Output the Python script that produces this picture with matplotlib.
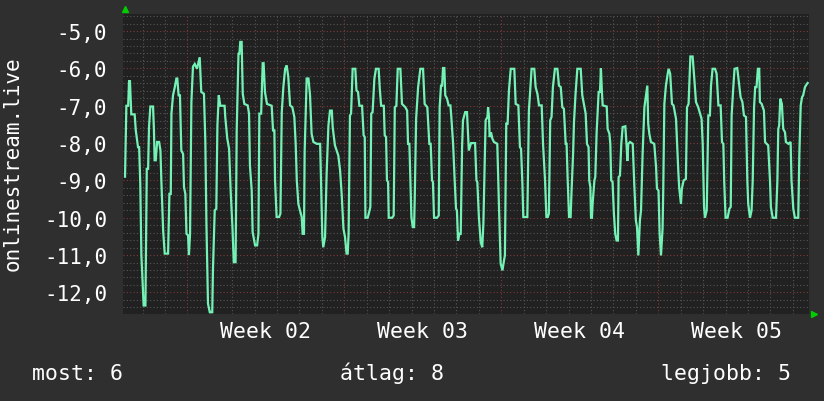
import numpy as np
import matplotlib
matplotlib.use("Agg")
import matplotlib.pyplot as plt

# time in days, 0 = first weekly grid line
t1 = [-2.78, -2.72, -2.64, -2.60, -2.56, -2.50, -2.35, -2.30, -2.20, -2.15,
      -2.10, -2.05, -1.95, -1.87, -1.81, -1.75, -1.71, -1.65, -1.53, -1.49,
      -1.46, -1.41, -1.35, -1.26, -1.20, -1.16, -1.08, -1.01, -0.86, -0.80,
      -0.74, -0.71, -0.64, -0.56, -0.49, -0.45, -0.39, -0.33, -0.27, -0.19,
      -0.15, -0.09, -0.04, 0.03, 0.07, 0.12, 0.18, 0.25, 0.33, 0.43,
      0.55, 0.62, 0.74, 0.80, 0.85, 0.92, 1.00, 1.11, 1.14, 1.22,
      1.29, 1.34, 1.40, 1.47, 1.66, 1.69, 1.78, 1.86, 1.93, 2.01,
      2.07, 2.15, 2.20]
v1 = [-8.9, -7.0, -7.0, -6.34, -6.34, -7.23, -7.23, -7.66, -8.11, -8.11,
      -9.09, -11.0, -12.35, -12.35, -8.69, -8.69, -7.57, -7.02, -7.02, -7.66,
      -8.46, -8.46, -7.97, -7.97, -8.20, -9.0, -10.34, -10.96, -10.96, -9.36,
      -9.36, -7.21, -6.72, -6.50, -6.27, -6.27, -6.72, -6.72, -8.20, -8.29,
      -9.18, -9.36, -10.43, -10.47, -11.0, -10.43, -6.90, -5.95, -5.88, -6.01,
      -5.70, -6.63, -6.68, -7.93, -10.16, -12.30, -12.53, -12.53, -11.41, -9.80,
      -9.76, -7.53, -6.72, -7.0, -7.0, -7.30, -7.88, -8.15, -9.27, -10.25,
      -11.19, -11.19, -7.66]

t2 = [2.28, 2.32, 2.36, 2.42, 2.47, 2.54, 2.69, 2.75, 2.79, 2.87,
      2.91, 3.02, 3.11, 3.17, 3.21, 3.29, 3.36, 3.40, 3.46, 3.55,
      3.76, 3.82, 3.88, 3.91, 3.98, 4.09, 4.15, 4.21, 4.28, 4.36,
      4.43, 4.50, 4.58, 4.68, 4.77, 4.83, 4.88, 4.95, 5.02, 5.10,
      5.14, 5.20, 5.23, 5.32, 5.40, 5.47, 5.54, 5.62, 5.77, 5.92,
      5.96, 6.02, 6.06, 6.14, 6.21, 6.29, 6.36, 6.44, 6.48, 6.58,
      6.73, 6.81, 6.88, 6.96, 7.03, 7.10, 7.15, 7.19, 7.25, 7.30,
      7.37]
v2 = [-5.61, -5.61, -5.29, -5.29, -6.68, -6.95, -6.99, -7.21, -8.60, -9.27,
      -10.38, -10.74, -10.74, -10.43, -7.21, -7.21, -5.86, -5.86, -6.63, -6.95,
      -7.0, -7.66, -7.66, -9.0, -9.98, -9.98, -9.89, -7.17, -6.50, -6.01,
      -5.92, -6.23, -6.99, -7.04, -7.30, -8.02, -9.0, -9.63, -9.80, -9.98,
      -10.43, -10.43, -8.24, -6.27, -6.27, -6.72, -7.75, -7.97, -8.02, -8.02,
      -9.0, -10.52, -10.79, -10.52, -8.82, -7.53, -7.13, -7.13, -7.57, -8.06,
      -8.33, -8.73, -9.36, -10.29, -10.52, -10.96, -10.96, -10.43, -7.26, -7.21,
      -6.01]

t3 = [7.49, 7.54, 7.61, 7.67, 7.79, 7.86, 7.91, 7.94, 8.04, 8.09,
      8.16, 8.20, 8.26, 8.34, 8.41, 8.53, 8.58, 8.64, 8.76, 8.80,
      8.86, 8.90, 8.95, 8.98, 9.13, 9.20, 9.25, 9.32, 9.38, 9.50,
      9.57, 9.72, 9.80, 9.84, 9.90, 9.99, 10.05, 10.11, 10.14, 10.20,
      10.29, 10.39, 10.51, 10.58, 10.70, 10.79, 10.85, 10.91, 10.95, 11.00,
      11.13, 11.21, 11.25, 11.31, 11.36, 11.40, 11.46, 11.50, 11.58, 11.65,
      11.73, 11.77, 11.85, 11.92, 11.98, 12.02, 12.07, 12.13, 12.19, 12.25,
      12.29, 12.39, 12.47]
v3 = [-6.01, -6.59, -6.63, -7.0, -7.0, -7.79, -7.84, -10.0, -10.0, -9.89,
      -9.71, -7.21, -7.17, -6.27, -6.01, -6.01, -6.54, -7.0, -7.0, -7.79,
      -7.84, -9.0, -9.04, -10.0, -10.0, -9.94, -7.04, -7.0, -6.01, -6.01,
      -6.95, -7.04, -7.13, -8.02, -8.02, -9.98, -10.25, -10.25, -9.45, -7.35,
      -6.50, -6.01, -6.01, -6.95, -7.04, -8.02, -8.02, -9.0, -9.04, -10.0,
      -10.0, -9.94, -7.04, -6.46, -6.46, -5.99, -5.99, -6.72, -6.81, -6.99,
      -6.99, -7.30, -8.02, -9.0, -9.76, -9.80, -10.61, -10.43, -10.43, -8.11,
      -7.39, -7.17, -7.17]

t4 = [12.55, 12.65, 12.83, 12.89, 12.93, 13.00, 13.08, 13.15, 13.20, 13.24,
      13.30, 13.38, 13.41, 13.45, 13.48, 13.54, 13.60, 13.67, 13.82, 13.90,
      13.97, 14.05, 14.12, 14.16, 14.22, 14.28, 14.34, 14.42, 14.58, 14.64,
      14.76, 14.83, 14.88, 14.94, 14.98, 15.16, 15.23, 15.28, 15.35, 15.47,
      15.53, 15.61, 15.68, 15.80, 15.86, 15.95, 16.01, 16.07, 16.12, 16.18,
      16.24, 16.30, 16.39, 16.50, 16.57, 16.65, 16.72, 16.79, 16.87, 16.91,
      16.96, 17.02, 17.09, 17.13, 17.20, 17.24, 17.31, 17.39, 17.54, 17.61,
      17.69, 17.76]
v4 = [-8.20, -8.0, -8.0, -9.0, -9.04, -9.98, -10.65, -10.79, -10.16, -9.0,
      -7.39, -7.30, -7.04, -7.30, -7.84, -7.71, -7.88, -7.97, -8.02, -9.80,
      -11.23, -11.41, -11.14, -11.01, -7.48, -7.48, -6.59, -6.01, -6.01, -6.95,
      -6.99, -8.11, -8.15, -9.09, -9.98, -9.98, -7.13, -6.68, -6.01, -6.01,
      -6.50, -6.68, -6.99, -6.99, -8.02, -9.0, -9.98, -9.98, -9.89, -7.39,
      -7.30, -6.50, -6.01, -6.01, -6.46, -6.50, -7.04, -7.08, -8.02, -8.02,
      -9.0, -9.98, -9.98, -9.31, -8.29, -7.44, -6.68, -6.01, -6.01, -6.72,
      -6.99, -7.21]

t5 = [17.82, 17.89, 17.92, 17.97, 18.00, 18.04, 18.07, 18.15, 18.19, 18.25,
      18.34, 18.40, 18.44, 18.49, 18.52, 18.70, 18.74, 18.82, 18.86, 18.90,
      18.96, 19.02, 19.08, 19.14, 19.20, 19.23, 19.29, 19.35, 19.41, 19.53,
      19.59, 19.62, 19.66, 19.74, 19.86, 19.93, 20.00, 20.05, 20.11, 20.18,
      20.23, 20.30, 20.38, 20.45, 20.51, 20.55, 20.60, 20.67, 20.82, 20.90,
      20.94, 21.01, 21.06, 21.12, 21.19, 21.22, 21.27, 21.34, 21.42, 21.46,
      21.53, 21.61, 21.68, 21.79, 21.83, 21.89, 21.93, 22.01, 22.05, 22.13,
      22.23, 22.28, 22.35, 22.43, 22.53, 22.60, 22.68, 22.78]
v5 = [-8.02, -8.11, -9.0, -9.18, -10.0, -10.0, -9.63, -9.0, -8.91, -7.71,
      -6.63, -6.63, -5.99, -6.68, -6.99, -7.02, -7.62, -7.75, -8.02, -9.0,
      -9.04, -9.89, -10.43, -10.61, -10.61, -8.91, -8.87, -8.02, -7.57, -7.55,
      -8.11, -8.48, -8.02, -7.97, -8.02, -9.13, -10.07, -10.25, -11.01, -10.07,
      -9.80, -8.29, -7.04, -6.72, -6.46, -7.48, -7.75, -7.97, -8.02, -8.64,
      -9.22, -9.27, -10.43, -11.01, -10.29, -9.27, -6.95, -6.46, -6.14, -6.01,
      -6.14, -6.95, -6.99, -7.35, -7.93, -8.73, -9.18, -9.63, -9.22, -9.0,
      -8.96, -7.04, -6.95, -5.68, -5.68, -6.23, -6.90, -7.04]

t6 = [22.93, 22.98, 23.04, 23.08, 23.16, 23.23, 23.30, 23.35, 23.42, 23.53,
      23.60, 23.68, 23.78, 23.84, 23.90, 23.94, 24.00, 24.09, 24.17, 24.23,
      24.27, 24.34, 24.40, 24.52, 24.61, 24.67, 24.75, 24.82, 24.91, 24.97,
      25.01, 25.09, 25.16, 25.21, 25.27, 25.32, 25.38, 25.44, 25.50, 25.53,
      25.61, 25.71, 25.76, 25.83, 25.90, 25.98, 26.02, 26.10, 26.25, 26.31,
      26.35, 26.39, 26.44, 26.51, 26.57, 26.65, 26.69, 26.80, 26.90, 26.94,
      27.02, 27.09, 27.24, 27.29, 27.35, 27.41, 27.46, 27.54, 27.61, 27.66]
v6 = [-7.35, -8.02, -9.71, -10.0, -9.80, -7.26, -7.26, -6.46, -6.01, -6.01,
      -6.14, -6.99, -6.99, -7.97, -8.02, -9.04, -10.0, -10.0, -9.76, -9.71,
      -7.26, -6.54, -6.01, -5.99, -6.46, -6.77, -6.90, -7.26, -7.30, -9.0,
      -9.63, -10.0, -9.80, -9.0, -7.04, -6.50, -6.50, -6.01, -6.01, -6.90,
      -6.95, -7.13, -7.97, -8.02, -8.06, -9.0, -9.71, -10.0, -10.0, -9.0,
      -7.62, -7.53, -6.81, -6.95, -7.62, -7.71, -7.97, -8.02, -7.97, -9.0,
      -9.76, -10.0, -10.0, -8.29, -6.99, -6.77, -6.72, -6.50, -6.43, -6.39]

week_labels = ["Week 02", "Week 03", "Week 04", "Week 05"]
week_pos = [3.5, 10.5, 17.5, 24.5]
week_lines = [0, 7, 14, 21]
y_ticks = [-12, -11, -10, -9, -8, -7, -6, -5]
legend_names = ["most", "átlag", "legjobb"]
legend_values = [6, 8, 5]

BG = "#2f2f2f"
PLOT_BG = "#212121"
LINE = "#74f2b6"
GRID = "#555555"
GRID_RED = "#7d3a3a"
FONT = "DejaVu Sans Mono"

t = np.concatenate([t1, t2, t3, t4, t5, t6])
v = np.concatenate([v1, v2, v3, v4, v5, v6])

fig = plt.figure(figsize=(8.24, 4.02), dpi=100, facecolor=BG)
ax = fig.add_axes([123 / 824, 1 - 314.7 / 402, 686 / 824, 299.4 / 402])
ax.set_facecolor(PLOT_BG)
ax.set_xlim(-2.87, 27.72)
ax.set_ylim(-12.57, -4.55)

# grid: 0.2 / 1 day minor (gray), 1.0 / 1 week major (red)
ax.set_yticks(y_ticks)
ax.set_yticklabels(["%d,0" % y for y in y_ticks])
ax.set_yticks(np.arange(-12.4, -4.55, 0.2), minor=True)
days = [d for d in range(-2, 28) if d not in week_lines]
ax.set_xticks(days, minor=True)
ax.set_xticks(week_pos)
ax.set_xticklabels(week_labels)
ax.grid(which="minor", color=GRID, linestyle=(0, (1, 2)), linewidth=0.8)
ax.grid(which="major", axis="y", color=GRID_RED, linestyle=(0, (1, 2)), linewidth=0.8)
for w in week_lines:
    ax.axvline(w, color=GRID_RED, linestyle=(0, (1, 2)), linewidth=0.8)
ax.set_axisbelow(True)

ax.tick_params(which="both", length=0)
ax.tick_params(axis="y", pad=11.3, labelsize=15, labelcolor="white")
ax.tick_params(axis="x", pad=5.6, labelsize=15.5, labelcolor="white")
for lab in ax.get_xticklabels() + ax.get_yticklabels():
    lab.set_family(FONT)
for s in ax.spines.values():
    s.set_visible(False)

ax.plot(t, v, color=LINE, linewidth=1.6, solid_joinstyle="miter", zorder=3)

# rrdtool style axis arrows
ax.plot([0.003], [1.018], marker="^", color="#00cc00", markersize=5,
        transform=ax.transAxes, clip_on=False)
ax.plot([1.007], [0.0], marker=">", color="#00cc00", markersize=5,
        transform=ax.transAxes, clip_on=False)

fig.text(13 / 824, 1 - 163.5 / 402, "onlinestream.live", rotation=90,
         ha="center", va="center", fontsize=15, family=FONT, color="white")

base_y = 1 - 380 / 402
fig.text(32 / 824, base_y, "%s: %d" % (legend_names[0], legend_values[0]),
         ha="left", va="baseline", fontsize=15.5, family=FONT, color="white")
fig.text(391.5 / 824, base_y, "%s: %d" % (legend_names[1], legend_values[1]),
         ha="center", va="baseline", fontsize=15.5, family=FONT, color="white")
fig.text(791 / 824, base_y, "%s: %d" % (legend_names[2], legend_values[2]),
         ha="right", va="baseline", fontsize=15.5, family=FONT, color="white")

fig.savefig("out.png", dpi=100, facecolor=BG)
